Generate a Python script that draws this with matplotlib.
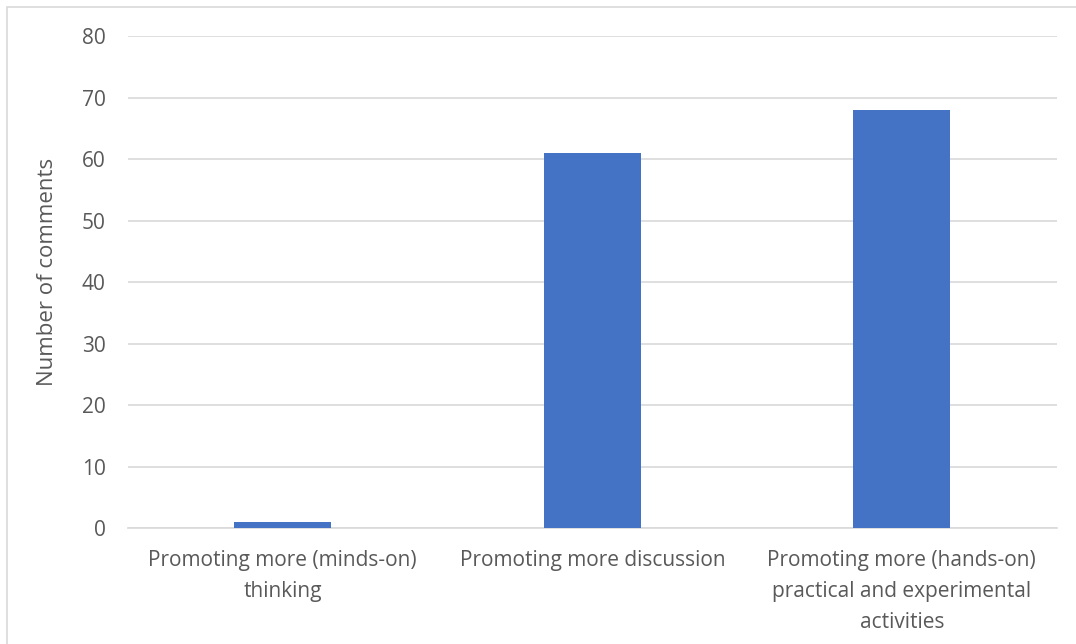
import matplotlib.pyplot as plt
from matplotlib.patches import Rectangle

categories = [
    "Promoting more (minds-on)\nthinking",
    "Promoting more discussion",
    "Promoting more (hands-on)\npractical and experimental\nactivities",
]
counts = [1, 61, 68]
y_ticks = [0, 10, 20, 30, 40, 50, 60, 70, 80]

plt.rcParams['font.family'] = ['Open Sans', 'DejaVu Sans']
text_color = '#595959'
grid_color = '#D9D9D9'

fig = plt.figure(figsize=(10.76, 6.44), dpi=100)
ax = fig.add_axes([0.119, 0.180, 0.863, 0.764])

# chart frame (right/bottom edges run off the canvas)
fig.patches.append(Rectangle((7 / 1076, -0.01), 1.02, 1 - 7 / 644 + 0.01,
                             transform=fig.transFigure, fill=False,
                             edgecolor=grid_color, lw=1.2))

x = range(len(categories))
ax.bar(x, counts, width=0.313, color='#4472C4', zorder=3)

ax.set_xlim(-0.5, 2.5)
ax.set_ylim(0, 80)
ax.set_yticks(y_ticks)
ax.set_xticks(list(x))
ax.set_xticklabels(categories, fontsize=15, color=text_color, linespacing=1.62)
ax.tick_params(axis='y', labelsize=15, labelcolor=text_color, length=0, pad=16)
ax.tick_params(axis='x', length=0, pad=16)
ax.set_ylabel('Number of comments', fontsize=16, color=text_color)
ax.yaxis.set_label_coords(-0.075, 0.52)

ax.yaxis.grid(True, color=grid_color, lw=1.2, zorder=0)
for s in ['top', 'right', 'left']:
    ax.spines[s].set_visible(False)
ax.spines['bottom'].set_color(grid_color)
ax.spines['bottom'].set_linewidth(1.2)
ax.set_axisbelow(True)

fig.savefig('out.png', dpi=100)
